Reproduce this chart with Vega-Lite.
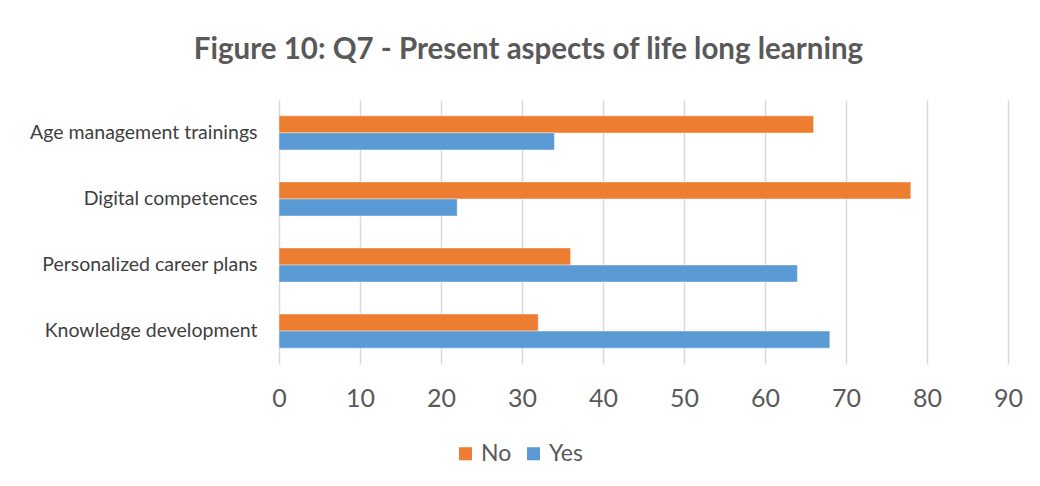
{
  "$schema": "https://vega.github.io/schema/vega-lite/v6.json",
  "autosize": "none",
  "width": 729,
  "height": 264,
  "padding": {"left": 279, "top": 100, "right": 32, "bottom": 122},
  "background": "white",
  "title": {
    "text": "Figure 10: Q7 - Present aspects of life long learning",
    "font": "Lato",
    "fontSize": 29.5,
    "fontWeight": "bold",
    "color": "#595959",
    "anchor": "middle",
    "dx": -115,
    "offset": 35
  },
  "data": {
    "values": [
      {"aspect": "Age management trainings", "answer": "No", "value": 66},
      {"aspect": "Age management trainings", "answer": "Yes", "value": 34},
      {"aspect": "Digital competences", "answer": "No", "value": 78},
      {"aspect": "Digital competences", "answer": "Yes", "value": 22},
      {"aspect": "Personalized career plans", "answer": "No", "value": 36},
      {"aspect": "Personalized career plans", "answer": "Yes", "value": 64},
      {"aspect": "Knowledge development", "answer": "No", "value": 32},
      {"aspect": "Knowledge development", "answer": "Yes", "value": 68}
    ]
  },
  "mark": {"type": "bar", "stroke": "white", "strokeOpacity": 0.5, "strokeWidth": 0.8},
  "encoding": {
    "y": {
      "field": "aspect",
      "type": "nominal",
      "sort": ["Age management trainings", "Digital competences", "Personalized career plans", "Knowledge development"],
      "scale": {"paddingInner": 0.485, "paddingOuter": 0.24},
      "axis": {
        "title": null,
        "domain": false,
        "ticks": false,
        "labelFont": "Lato",
        "labelFontSize": 19.5,
        "labelColor": "#404040",
        "labelPadding": 22,
        "labelLimit": 0
      }
    },
    "yOffset": {"field": "answer", "type": "nominal", "sort": ["No", "Yes"]},
    "x": {
      "field": "value",
      "type": "quantitative",
      "scale": {"domain": [0, 90]},
      "axis": {
        "title": null,
        "values": [0, 10, 20, 30, 40, 50, 60, 70, 80, 90],
        "domain": false,
        "ticks": false,
        "grid": true,
        "gridColor": "#D9D9D9",
        "gridWidth": 1.5,
        "labelFlush": false,
        "labelFont": "Lato",
        "labelFontSize": 25,
        "labelColor": "#595959",
        "labelPadding": 22
      }
    },
    "color": {
      "field": "answer",
      "type": "nominal",
      "sort": ["No", "Yes"],
      "scale": {"domain": ["No", "Yes"], "range": ["#ED7D31", "#5B9BD5"]},
      "legend": {
        "title": null,
        "orient": "none",
        "direction": "horizontal",
        "legendX": 175,
        "legendY": 342,
        "symbolType": "square",
        "symbolSize": 170,
        "symbolStrokeWidth": 0,
        "symbolOpacity": 1,
        "labelFont": "Lato",
        "labelFontSize": 23,
        "labelColor": "#595959",
        "labelOffset": 4,
        "columnPadding": 10
      }
    }
  },
  "config": {"view": {"stroke": null}}
}
